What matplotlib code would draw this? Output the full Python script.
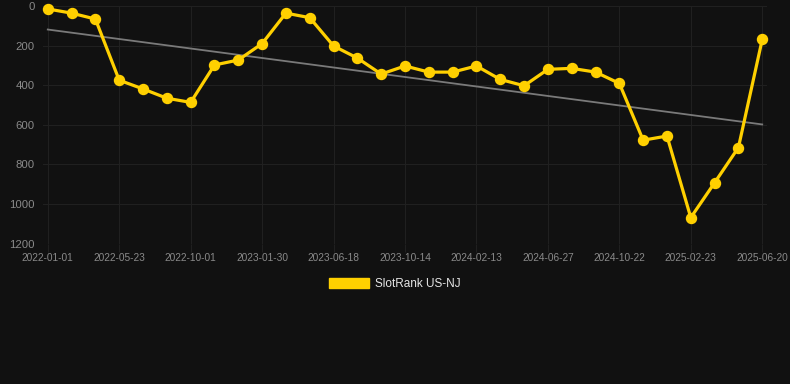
import numpy as np
import matplotlib
import matplotlib.pyplot as plt
from matplotlib.patches import Patch

matplotlib.use('Agg')

# Data (rank, lower is better; y axis inverted)
ranks = [15, 36, 66, 375, 419, 466, 487, 298, 273, 190,
         36, 59, 202, 263, 344, 303, 334, 334, 303, 371,
         403, 320, 315, 334, 391, 678, 657, 1069, 893, 715, 169]
tick_labels = ['2022-01-01', '2022-05-23', '2022-10-01', '2023-01-30',
               '2023-06-18', '2023-10-14', '2024-02-13', '2024-06-27',
               '2024-10-22', '2025-02-23', '2025-06-20']
series_name = 'SlotRank US-NJ'

BG = '#111111'
GOLD = '#FFD000'
GRID = '#202020'
TEXT = '#8a8a8a'

plt.rcParams['font.family'] = ['Liberation Sans', 'DejaVu Sans']

fig = plt.figure(figsize=(7.9, 3.84), dpi=100, facecolor=BG)
ax = fig.add_axes([43 / 790, 1 - 243.5 / 384, (767 - 43) / 790, (243.5 - 6) / 384])
ax.set_facecolor(BG)

x = np.arange(len(ranks))

# Linear trend line
coef = np.polyfit(x, ranks, 1)
ax.plot([x[0], x[-1]], np.polyval(coef, [x[0], x[-1]]), color='#7a7a7a', lw=1.3, zorder=2)

ax.plot(x, ranks, color=GOLD, lw=2.3, marker='o', markersize=7.2,
        markerfacecolor=GOLD, markeredgecolor=GOLD, zorder=3, clip_on=False)

ax.set_xlim(-0.2, len(ranks) - 1 + 0.2)
ax.set_ylim(1200, 0)
ax.set_yticks(np.arange(0, 1201, 200))
ax.set_xticks(x[::3])
ax.set_xticklabels(tick_labels)

ax.grid(True, color=GRID, lw=0.8)
for s in ax.spines.values():
    s.set_visible(False)

ax.tick_params(axis='x', colors=GRID, length=6, pad=1, labelsize=7.3, labelcolor=TEXT)
ax.tick_params(axis='y', colors=GRID, length=0, pad=6, labelsize=8.2, labelcolor=TEXT)

handle = Patch(facecolor=GOLD, edgecolor=GOLD)
fig.legend([handle], [series_name], loc='center', bbox_to_anchor=(0.5, 1 - 284 / 384),
           frameon=False, fontsize=8.5, labelcolor='#e6e6e6',
           handlelength=3.4, handleheight=0.9, handletextpad=0.5)

fig.savefig('out.png', dpi=100, facecolor=BG)
